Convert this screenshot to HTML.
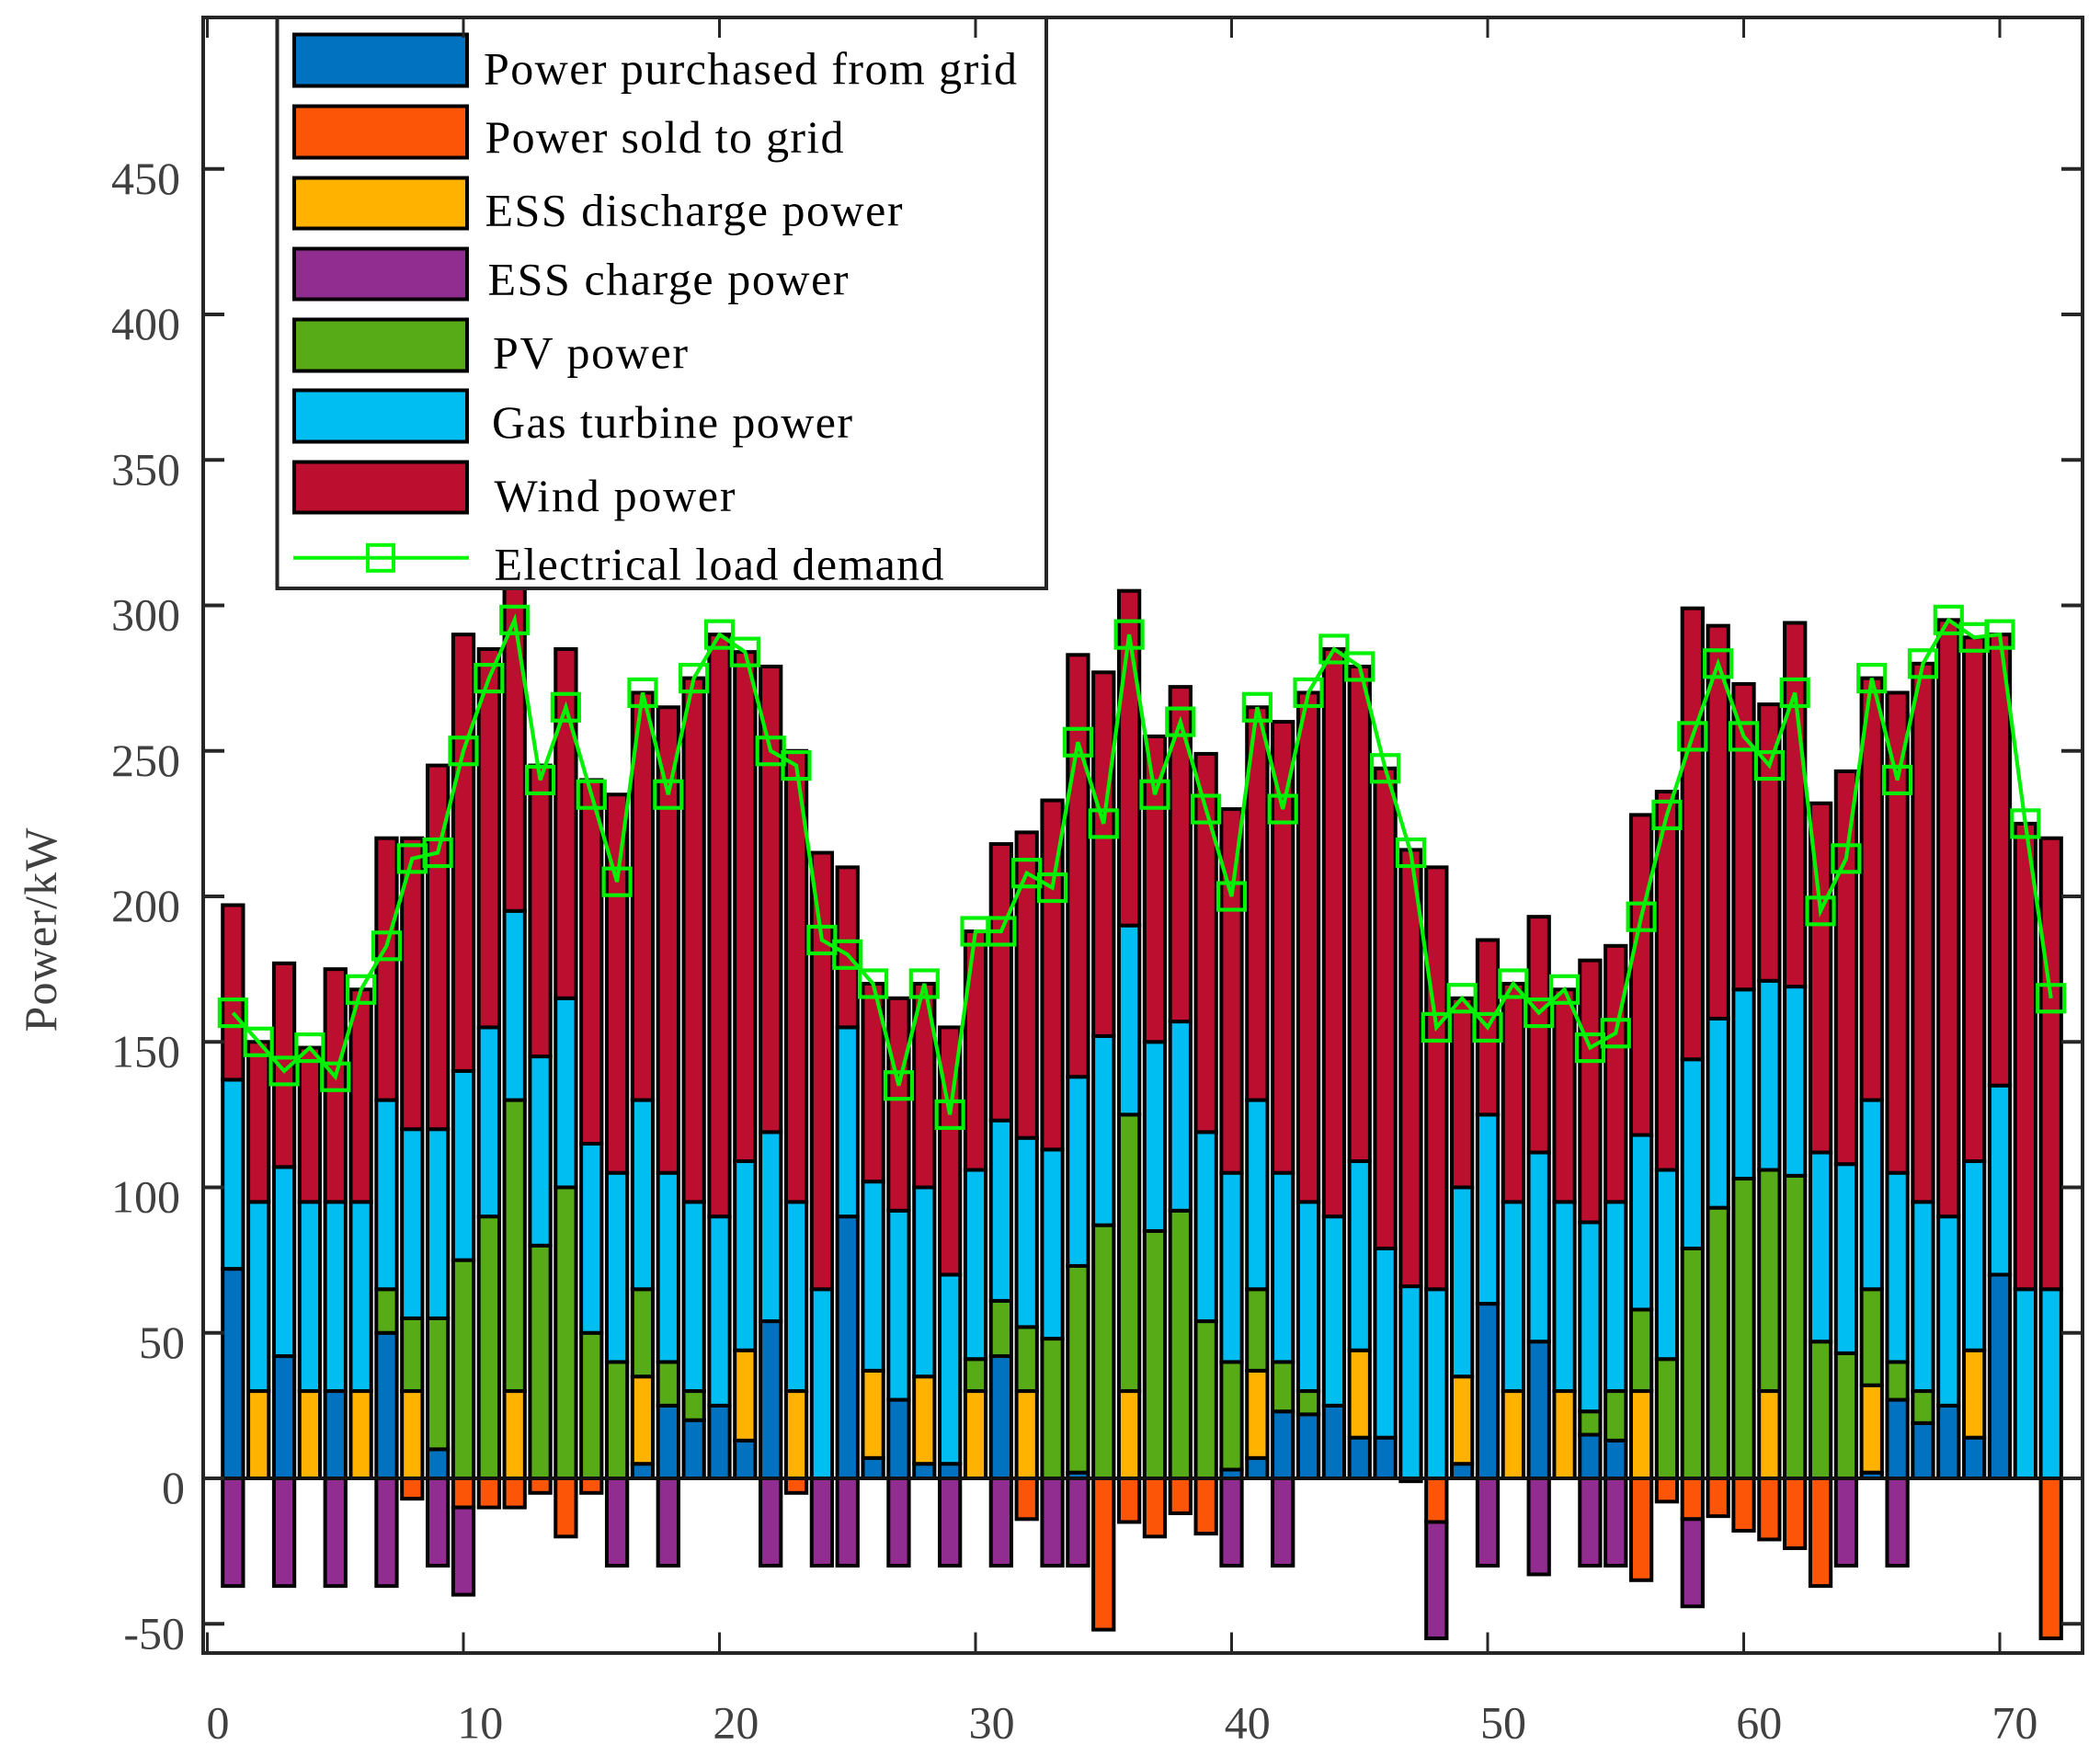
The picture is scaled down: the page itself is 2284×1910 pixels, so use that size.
<!DOCTYPE html>
<html lang="en">
<head>
<meta charset="utf-8">
<title>Power balance stacked bar chart</title>
<style>
html,body{margin:0;padding:0;background:#fff;width:2284px;height:1910px;overflow:hidden}
svg{display:block}
text{font-family:"Liberation Serif",serif}
.tick-label{font-size:50px;fill:#404040}
.legend-label{font-size:50px;fill:#000}
</style>
</head>
<body>
<svg id="chart" width="2284" height="1910" viewBox="0 0 2284 1910" xmlns="http://www.w3.org/2000/svg">
  <g id="bars"></g>
  <g id="load"></g>
  <g id="legend">
    <rect x="301.5" y="19" width="836.5" height="621" fill="#fff" stroke="#262626" stroke-width="4"/>
    <g>
      <rect x="320" y="37.5" width="188" height="56" fill="#0072C0" stroke="#000" stroke-width="4"/>
      <text class="legend-label" x="526" y="91.5" textLength="580">Power purchased from grid</text>
    </g>
    <g>
      <rect x="320" y="115.5" width="188" height="56" fill="#FC5508" stroke="#000" stroke-width="4"/>
      <text class="legend-label" x="527.5" y="166" textLength="390">Power sold to grid</text>
    </g>
    <g>
      <rect x="320" y="193.5" width="188" height="55" fill="#FFB300" stroke="#000" stroke-width="4"/>
      <text class="legend-label" x="527.5" y="245.5" textLength="454">ESS discharge power</text>
    </g>
    <g>
      <rect x="320" y="270.5" width="188" height="55" fill="#912C90" stroke="#000" stroke-width="4"/>
      <text class="legend-label" x="530.5" y="320.5" textLength="392">ESS charge power</text>
    </g>
    <g>
      <rect x="320" y="347.5" width="188" height="56" fill="#57AB17" stroke="#000" stroke-width="4"/>
      <text class="legend-label" x="536" y="400.5" textLength="212">PV power</text>
    </g>
    <g>
      <rect x="320" y="424.5" width="188" height="56" fill="#00BDF2" stroke="#000" stroke-width="4"/>
      <text class="legend-label" x="535" y="476" textLength="392">Gas turbine power</text>
    </g>
    <g>
      <rect x="320" y="502.5" width="188" height="55" fill="#BC0E2E" stroke="#000" stroke-width="4"/>
      <text class="legend-label" x="537.5" y="556" textLength="262">Wind power</text>
    </g>
    <g>
      <line x1="319" y1="606.8" x2="510" y2="606.8" stroke="#00F800" stroke-width="4"/>
      <rect x="400" y="592.8" width="28" height="28" fill="none" stroke="#00F800" stroke-width="4"/>
      <text class="legend-label" x="537.5" y="630.5" textLength="489">Electrical load demand</text>
    </g>
  </g>
  <g id="axes">
    <rect x="221" y="19" width="2044" height="1779" fill="none" stroke="#262626" stroke-width="4"/>
    <g id="xticks"></g>
    <g id="yticks"></g>
    <text class="tick-label" transform="translate(61 1122.5) rotate(-90)" textLength="222">Power/kW</text>
  </g>
</svg>
<script>
const hours = [];
for (let h = 1; h <= 72; h++) hours.push(h);
const gridPurchase = [72,0,42,0,30,0,50,0,10,0,0,0,0,0,0,0,5,25,20,25,13,54,0,0,90,7,27,5,5,0,42,0,0,2,0,0,0,0,0,3,7,23,22,25,14,14,0,0,5,60,0,47,0,15,13,0,0,0,0,0,0,0,0,0,2,27,19,25,14,70,0,0];
const essDischarge = [0,30,0,30,0,30,0,30,0,0,0,30,0,0,0,0,30,0,0,0,31,0,30,0,0,30,0,30,0,30,0,30,0,0,0,30,0,0,0,0,30,0,0,0,30,0,0,0,30,0,30,0,30,0,0,30,0,0,0,0,30,0,0,0,30,0,0,0,30,0,0,0];
const pvPower = [0,0,0,0,0,0,15,25,45,75,90,100,80,100,50,40,30,15,10,0,0,0,0,0,0,0,0,0,0,11,19,22,48,71,87,95,85,92,54,37,28,17,8,0,0,0,0,0,0,0,0,0,0,8,17,28,41,79,93,103,76,104,47,43,33,13,11,0,0,0,0,0];
const gasPower = [65,65,65,65,65,65,65,65,65,65,65,65,65,65,65,65,65,65,65,65,65,65,65,65,65,65,65,65,65,65,62,65,65,65,65,65,65,65,65,65,65,65,65,65,65,65,66,65,65,65,65,65,65,65,65,60,65,65,65,65,65,65,65,65,65,65,65,65,65,65,65,65];
const windPower = [60,55,70,53,80,73,90,100,125,150,130,112,100,120,125,130,140,160,180,200,175,160,155,150,55,68,73,70,85,82,95,105,120,145,125,115,105,115,130,125,135,155,175,195,170,165,150,145,65,60,75,81,73,90,88,110,130,155,135,105,95,125,120,135,145,165,185,205,180,155,160,155];
const gridSale = [0,0,0,0,0,0,0,7,0,10,10,10,5,20,5,0,0,0,0,0,0,0,5,0,0,0,0,0,0,0,0,14,0,0,52,15,20,12,19,0,0,0,0,0,0,0,1,15,0,0,0,0,0,0,0,35,8,14,13,18,21,24,37,0,0,0,0,0,0,0,0,55];
const essCharge = [37,0,37,0,37,0,37,0,30,30,0,0,0,0,0,30,0,30,0,0,0,30,0,30,30,0,30,0,30,0,30,0,30,30,0,0,0,0,0,30,0,30,0,0,0,0,0,40,0,30,0,33,0,30,30,0,0,30,0,0,0,0,0,30,0,30,0,0,0,0,0,0];
const loadDemand = [160,150,140,148,138,168,183,213,215,250,275,295,240,265,235,205,270,235,275,290,284,250,245,185,180,170,135,170,125,188,188,208,203,253,225,290,235,260,230,200,265,230,270,285,279,244,215,155,165,155,170,160,168,148,153,193,228,255,280,255,245,270,195,213,275,240,280,295,289,290,225,165];
const xTickValues = [0,10,20,30,40,50,60,70];
const yTickValues = [-50,0,50,100,150,200,250,300,350,400,450];

const NS = 'http://www.w3.org/2000/svg';
const xScale = u => 225.5 + 27.85 * u;
const yScale = v => 1608 - 3.165 * v;
const barWidth = 0.8 * 27.85;

function make(parent, tag, attrs) {
  const el = document.createElementNS(NS, tag);
  for (const k in attrs) el.setAttribute(k, attrs[k]);
  parent.appendChild(el);
  return el;
}

const bars = document.getElementById('bars');
const positiveSeries = [
  ['grid-purchase', gridPurchase, '#0072C0'],
  ['ess-discharge', essDischarge, '#FFB300'],
  ['pv', pvPower, '#57AB17'],
  ['gas-turbine', gasPower, '#00BDF2'],
  ['wind', windPower, '#BC0E2E']
];
const negativeSeries = [
  ['grid-sale', gridSale, '#FC5508'],
  ['ess-charge', essCharge, '#912C90']
];

function drawSegment(i, from, to, color, name) {
  const seg = make(bars, 'rect', {
    x: xScale(hours[i]) - barWidth / 2,
    y: yScale(Math.max(from, to)),
    width: barWidth,
    height: Math.abs(yScale(from) - yScale(to)),
    fill: color,
    stroke: '#000',
    'stroke-width': 4
  });
  
  
}

hours.forEach((h, i) => {
  let up = 0;
  positiveSeries.forEach(s => {
    const v = s[1][i];
    if (v > 0) { drawSegment(i, up, up + v, s[2], s[0]); up += v; }
  });
  let down = 0;
  negativeSeries.forEach(s => {
    const v = s[1][i];
    if (v > 0) { drawSegment(i, down, down - v, s[2], s[0]); down -= v; }
  });
});

const baseline = make(bars, 'line', {x1: 221, x2: 2265, y1: yScale(0), y2: yScale(0), stroke: '#111', 'stroke-width': 4});



const load = document.getElementById('load');
loadDemand.forEach((v, i) => {
  const m = make(load, 'rect', {
    x: xScale(hours[i]) - 14.5,
    y: yScale(v) - 14.5,
    width: 29,
    height: 29,
    fill: 'none',
    stroke: '#04F004',
    'stroke-width': 4.2
  });
  
  
});
const loadLine = make(load, 'polyline', {
  points: loadDemand.map((v, i) => xScale(hours[i]) + ',' + yScale(v)).join(' '),
  fill: 'none',
  stroke: '#04F004',
  'stroke-width': 4.2,
  'stroke-linejoin': 'miter'
});



const xticks = document.getElementById('xticks');
xTickValues.forEach(t => {
  const x = xScale(t);
  const bottomTick = make(xticks, 'line', {x1: x, x2: x, y1: 1798, y2: 1775.5, stroke: '#262626', 'stroke-width': 3});
  
  
  const topTick = make(xticks, 'line', {x1: x, x2: x, y1: 19, y2: 41, stroke: '#262626', 'stroke-width': 3});
  
  
  const label = make(xticks, 'text', {
    class: 'tick-label',
    x: t === 0 ? 237 : 244 + 27.82 * t,
    y: 1890.5,
    'text-anchor': 'middle'
  });
  label.textContent = String(t);
  
  
});

const yticks = document.getElementById('yticks');
yTickValues.forEach(t => {
  const y = yScale(t);
  const leftTick = make(yticks, 'line', {x1: 221, x2: 244, y1: y, y2: y, stroke: '#262626', 'stroke-width': 4});
  
  
  const rightTick = make(yticks, 'line', {x1: 2242, x2: 2265, y1: y, y2: y, stroke: '#262626', 'stroke-width': 4});
  
  
  const label = make(yticks, 'text', {
    class: 'tick-label',
    x: Math.abs(t) >= 100 ? 196 : 201,
    y: y + 27,
    'text-anchor': 'end'
  });
  label.textContent = String(t);
  
  
});
</script>
</body>
</html>
